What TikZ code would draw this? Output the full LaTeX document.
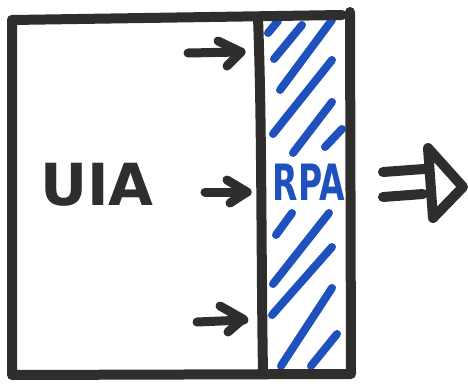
\documentclass[tikz,border=0pt]{standalone}
\usepackage{fontspec}
\setmainfont{DejaVu Sans}
\definecolor{ink}{RGB}{48,45,45}
\definecolor{mblue}{RGB}{30,80,190}
\begin{document}
\begin{tikzpicture}[x=1pt,y=-1pt,
  marker/.style={draw=ink,line width=10pt,line cap=round,line join=round},
  hatch/.style={draw=mblue,line width=8pt,line cap=round},
  smallarrow/.style={draw=ink,line width=9pt,line cap=round,line join=round}]
\useasboundingbox (0,0) rectangle (468,383);
% hatching
\draw[hatch] (268,33) -- (278,21);
\draw[hatch] (274,59) -- (302,25);
\draw[hatch] (280,90) -- (332,20);
\draw[hatch] (273,134) -- (332,60);
\draw[hatch] (293,153) -- (332,102);
\draw[hatch] (325,147) -- (342,129);
\draw[hatch] (276,235) -- (292,213);
\draw[hatch] (273,284) -- (329,213);
\draw[hatch] (272,315) -- (332,247);
\draw[hatch] (281,366) -- (332,288);
\draw[hatch] (311,366) -- (337,334);
% outer box
\draw[marker] (12,20) -- (342,15);
\draw[marker] (350,12) -- (351,374) -- (12,375) -- (12,20);
% divider
\draw[marker] (258,18) .. controls (262,120) and (261,250) .. (263,374);
% small arrows
\draw[smallarrow] (188,53) -- (241,52);
\draw[smallarrow] (218,41) -- (241,52) -- (227,66);
\draw[smallarrow] (205,192) -- (247,192);
\draw[smallarrow] (227,180) -- (247,192) -- (230,203);
\draw[smallarrow] (197,322) -- (244,320);
\draw[smallarrow] (220,306) -- (243,319) -- (228,332);
% texts
\node[text=ink,font=\bfseries\fontsize{58}{60}\selectfont,inner sep=0pt] (uia) at (97,185) {UIA};
\node[text=mblue,font=\bfseries\fontsize{50}{52}\selectfont,inner sep=0pt] (rpa) at (309,182) {\scalebox{0.66}[1]{RPA}};
% big output arrow
\draw[marker] (383,172) -- (424,169);
\draw[marker] (383,197) -- (423,194);
\draw[marker] (428,148) -- (463,187) -- (433,218) -- cycle;
\end{tikzpicture}
\end{document}
